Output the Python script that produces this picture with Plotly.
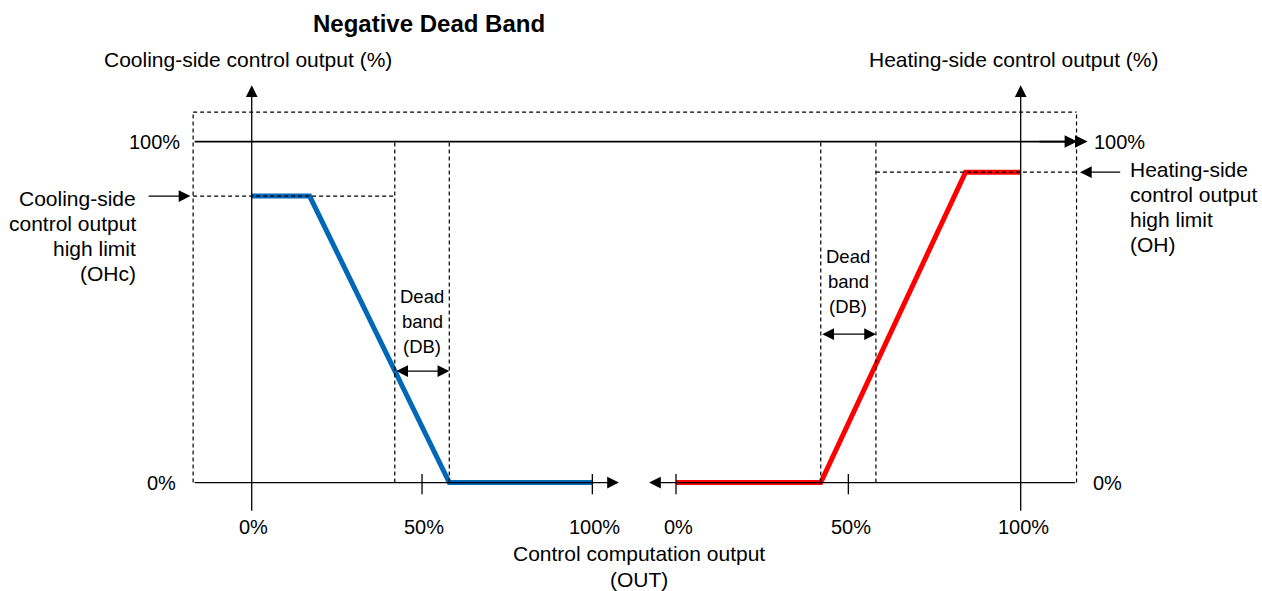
import plotly.graph_objects as go

# ---- data -------------------------------------------------------------
# cooling-side output vs. control computation output (OUT), in %
cool_out_x = [0, 17, 58, 100]
cool_out_y = [84, 84, 0, 0]
# heating-side output vs. control computation output (OUT), in %
heat_out_x = [0, 42, 84, 100]
heat_out_y = [0, 0, 91, 91]

dead_band = [42, 58]        # dead band edges on each side, % of OUT
ohc_limit = 84              # cooling-side control output high limit
oh_limit = 91               # heating-side control output high limit

tick_vals = [0, 50, 100]
tick_text = ["0%", "50%", "100%"]
level_vals = [0, 100]
level_text = ["0%", "100%"]

ohc_lines = ["Cooling-side", "control output", "high limit", "(OHc)"]
oh_lines = ["Heating-side", "control output", "high limit", "(OH)"]
db_lines = ["Dead", "band", "(DB)"]

# ---- layout constants -------------------------------------------------
C_RANGE = [-73.9, 296.6]     # cooling x-axis (x)
H_RANGE = [-196.1, 170.0]    # heating x-axis (x2)
Y_RANGE = [-31.8, 141.5]

BOX_L = -17.2                # dashed frame, left edge (cooling units)
BOX_R = 116.2                # dashed frame, right edge (heating units)
BOX_TOP = 108.6
ROW = 7.33                   # text line pitch in y units

FONT = "Liberation Sans, Arial, sans-serif"
BLUE = "#0068b7"
RED = "#ff0000"
INK = "#000000"


def c2h(v):
    """cooling-axis value -> heating-axis value at the same screen position"""
    f = (v - C_RANGE[0]) / (C_RANGE[1] - C_RANGE[0])
    return H_RANGE[0] + f * (H_RANGE[1] - H_RANGE[0])


fig = go.Figure()

fig.add_trace(go.Scatter(x=cool_out_x, y=cool_out_y, mode="lines",
                         line=dict(color=BLUE, width=5),
                         xaxis="x", yaxis="y", hoverinfo="skip"))
fig.add_trace(go.Scatter(x=heat_out_x, y=heat_out_y, mode="lines",
                         line=dict(color=RED, width=5),
                         xaxis="x2", yaxis="y", hoverinfo="skip"))

dash = dict(color=INK, width=1.2, dash="4px,3px")
shapes = [
    # dashed frame
    dict(type="line", xref="x2", yref="y", x0=c2h(BOX_L), x1=BOX_R,
         y0=BOX_TOP, y1=BOX_TOP, line=dash),
    dict(type="line", xref="x", yref="y", x0=BOX_L, x1=BOX_L,
         y0=0, y1=BOX_TOP, line=dash),
    dict(type="line", xref="x2", yref="y", x0=BOX_R, x1=BOX_R,
         y0=0, y1=BOX_TOP, line=dash),
    # high-limit guides
    dict(type="line", xref="x", yref="y", x0=BOX_L, x1=dead_band[0],
         y0=ohc_limit, y1=ohc_limit, line=dash),
    dict(type="line", xref="x2", yref="y", x0=dead_band[1], x1=BOX_R,
         y0=oh_limit, y1=oh_limit, line=dash),
]
# dead band edges
for ax in ("x", "x2"):
    for v in dead_band:
        shapes.append(dict(type="line", xref=ax, yref="y", x0=v, x1=v,
                           y0=0, y1=100, line=dash))
# tick marks on the OUT axes
for ax, vals in (("x", [50, 100]), ("x2", [0, 50])):
    for v in vals:
        shapes.append(dict(type="line", xref=ax, yref="y", x0=v, x1=v,
                           y0=-3.4, y1=2.5, line=dict(color=INK, width=1.3)))

ann = []


def arrow(xref, tail, tip, width=1.3, size=1.8, both=False):
    ann.append(dict(xref=xref, yref="y", axref=xref, ayref="y",
                    x=tip[0], y=tip[1], ax=tail[0], ay=tail[1],
                    text="", showarrow=True, arrowhead=2, arrowsize=size,
                    arrowwidth=width, arrowcolor=INK, standoff=0,
                    startstandoff=0,
                    arrowside="end+start" if both else "end"))


def label(xref, x, y, text, size=21, anchor="center", xshift=0):
    ann.append(dict(xref=xref, yref="y", x=x, y=y, text=text, showarrow=False,
                    xanchor=anchor, yanchor="middle", xshift=xshift,
                    font=dict(family=FONT, size=size, color=INK)))


# axes
arrow("x", (BOX_L, 0), (107.8, 0))
arrow("x2", (BOX_R, 0), (-7.8, 0))
arrow("x", (0, -8.7), (0, 116.5))
arrow("x2", (100, -8.7), (100, 116.5))
# 100% level line with double head
arrow("x2", (c2h(BOX_L), 100), (119.4, 100), width=1.8, size=1.4)
arrow("x2", (105, 100), (116.4, 100), width=1.8, size=1.4)
# high-limit pointers
arrow("x", (-30.7, ohc_limit), (-18.0, ohc_limit))
arrow("x2", (129.3, oh_limit), (117.2, oh_limit))
# dead band spans
arrow("x", (dead_band[0], 32.7), (dead_band[1], 32.7), both=True)
arrow("x2", (dead_band[0], 43.5), (dead_band[1], 43.5), both=True)

# titles
label("x", 52, 134.5, "<b>Negative Dead Band</b>", size=24)
label("x", -1, 124.2, "Cooling-side control output (%)")
label("x2", 97.9, 124.2, "Heating-side control output (%)")

# output level labels
for v, t in zip(level_vals, level_text):
    label("x", -20.4 if v else -21.5, v, t, size=20, anchor="right")
    label("x2", 120.6 if v else 120.3, v, t, size=20, anchor="left")

# OUT tick labels
for v, t in zip(tick_vals, tick_text):
    label("x", v, -13.0, t, size=20, xshift=2)
    label("x2", v, -13.0, t, size=20, xshift=3)
label("x", 113.6, -20.7, "Control computation output")
label("x", 113.6, -28.3, "(OUT)")

# high-limit captions
for i, t in enumerate(ohc_lines):
    label("x", -33.4, 83.3 - i * ROW, t, anchor="right")
for i, t in enumerate(oh_lines):
    label("x2", 131.0, 91.9 - i * ROW, t, anchor="left")

# dead band captions (set tighter than the body text)
for i, t in enumerate(db_lines):
    label("x", 50, 54.5 - i * ROW, t, size=18.5)
    label("x2", 50, 66.2 - i * ROW, t, size=18.5)

fig.update_layout(
    width=1262, height=591,
    margin=dict(l=0, r=0, t=0, b=0, pad=0),
    paper_bgcolor="white", plot_bgcolor="white",
    showlegend=False,
    xaxis=dict(range=C_RANGE, visible=False, fixedrange=True),
    xaxis2=dict(range=H_RANGE, visible=False, overlaying="x", anchor="y",
                fixedrange=True),
    yaxis=dict(range=Y_RANGE, visible=False, fixedrange=True),
    shapes=shapes,
    annotations=ann,
)

fig.write_html("out.html")
